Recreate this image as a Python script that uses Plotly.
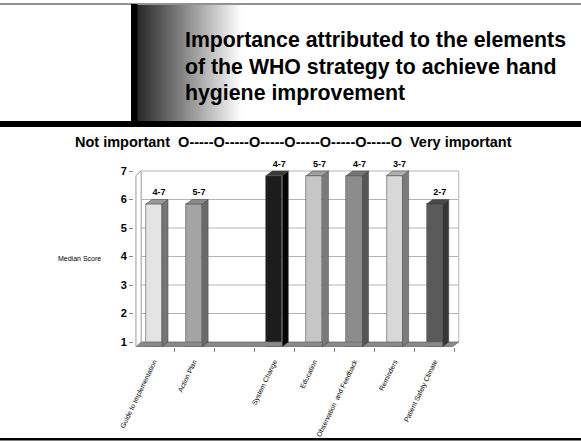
import plotly.graph_objects as go

# ---------------- data ----------------
categories = ["Guide to Implementation", "Action Plan", "", "System Change",
              "Education", "Observation  and Feedback", "Reminders",
              "Patient Safety Climate"]
median_score = [6, 6, None, 7, 7, 7, 7, 6]
score_range = ["4-7", "5-7", "", "4-7", "5-7", "4-7", "3-7", "2-7"]
y_ticks = [1, 2, 3, 4, 5, 6, 7]
title_lines = ["Importance attributed to the elements",
               "of the WHO strategy to achieve hand",
               "hygiene improvement"]
scale_text = "Not important  O-----O-----O-----O-----O-----O-----O  Very important"
y_title = "Median Score"

# ---------------- styles ----------------
front_cols = ["#e4e4e4", "#a4a4a4", None, "#1c1c1c", "#c6c6c6", "#8c8c8c", "#d8d8d8", "#5a5a5a"]
side_cols = ["#767676", "#6a6a6a", None, "#050505", "#7a7a7a", "#555555", "#7c7c7c", "#363636"]
top_cols = ["#9a9a9a", "#8a8a8a", None, "#3a3a3a", "#a0a0a0", "#767676", "#b0b0b0", "#484848"]

W, H = 581, 441
FONT = "Liberation Sans, Arial, sans-serif"
dx, dy = 0.15, 0.16      # 3-D depth offsets in data units
bw = 0.4                 # bar front width
xl_front, xl_back = -0.45, -0.32
xr_back = 7.6
xr_front = xr_back - dx


def px(x):
    return x / W


def py(y):
    return 1 - y / H


fig = go.Figure()

n = len(categories)
idx = list(range(n))
base = y_ticks[0]
top = y_ticks[-1]

# floor
fig.add_trace(go.Scatter(
    x=[xl_front, xl_back, xr_back, xr_front, xl_front],
    y=[base - dy, base, base, base - dy, base - dy],
    mode="lines", fill="toself", fillcolor="#8a8a8a",
    line=dict(color="#6a6a6a", width=0.8), hoverinfo="skip", showlegend=False))

# left wall
fig.add_trace(go.Scatter(
    x=[xl_front, xl_front, xl_back, xl_back, xl_front],
    y=[base - dy, top - dy, top, base, base - dy],
    mode="lines", fill="toself", fillcolor="white",
    line=dict(color="#9a9a9a", width=1), hoverinfo="skip", showlegend=False))

# bars: front faces
bx, by, bbase, bcol = [], [], [], []
for i, v in zip(idx, median_score):
    if v is None:
        continue
    bx.append(i)
    by.append(v - base)
    bbase.append(base - dy)
    bcol.append(front_cols[i])
fig.add_trace(go.Bar(x=bx, y=by, base=bbase, width=bw,
                     marker=dict(color=bcol, line=dict(color="#505050", width=0.6)),
                     hoverinfo="skip", showlegend=False))

# side and top faces
for i, v in zip(idx, median_score):
    if v is None:
        continue
    xr = i + bw / 2
    xlb = i - bw / 2
    fig.add_trace(go.Scatter(
        x=[xr, xr + dx, xr + dx, xr, xr],
        y=[base - dy, base, v, v - dy, base - dy],
        mode="lines", fill="toself", fillcolor=side_cols[i],
        line=dict(color="#404040", width=0.5), hoverinfo="skip", showlegend=False))
    fig.add_trace(go.Scatter(
        x=[xlb, xlb + dx, xr + dx, xr, xlb],
        y=[v - dy, v, v, v - dy, v - dy],
        mode="lines", fill="toself", fillcolor=top_cols[i],
        line=dict(color="#404040", width=0.5), hoverinfo="skip", showlegend=False))

# range labels above bars
lx, ly, lt = [], [], []
for i, v, t in zip(idx, median_score, score_range):
    if v is None:
        continue
    lx.append(i + dx / 2 + 0.05)
    ly.append(v + 0.22)
    lt.append(f"<b>{t}</b>")
fig.add_trace(go.Scatter(x=lx, y=ly, text=lt, mode="text",
                         textfont=dict(family=FONT, size=9, color="black"),
                         hoverinfo="skip", showlegend=False, cliponaxis=False))

shapes = []
# back wall gridlines and frame
for t in y_ticks[1:]:
    shapes.append(dict(type="line", xref="x", yref="y", x0=xl_back, x1=xr_back,
                       y0=t, y1=t, line=dict(color="#b4b4b4", width=1), layer="below"))
shapes.append(dict(type="line", xref="x", yref="y", x0=xr_back, x1=xr_back,
                   y0=base, y1=top, line=dict(color="#b4b4b4", width=1), layer="below"))

# header decoration (pixel -> paper)
# gradient
g0, g1 = 137, 242
steps = 70
for k in range(steps):
    a = g0 + (g1 - g0) * k / steps
    b = g0 + (g1 - g0) * (k + 1) / steps + 0.5
    c = int(40 + (255 - 40) * k / (steps - 1))
    shapes.append(dict(type="rect", xref="paper", yref="paper", x0=px(a), x1=px(b),
                       y0=py(121), y1=py(5), fillcolor=f"rgb({c},{c},{c})",
                       line=dict(width=0), layer="below"))
shapes.append(dict(type="line", xref="paper", yref="paper", x0=0, x1=1, y0=py(4), y1=py(4),
                   line=dict(color="#6e6e6e", width=1.5)))
shapes.append(dict(type="rect", xref="paper", yref="paper", x0=px(131), x1=px(137.5),
                   y0=py(121), y1=py(4), fillcolor="black", line=dict(width=0)))
shapes.append(dict(type="rect", xref="paper", yref="paper", x0=0, x1=1,
                   y0=py(127), y1=py(121), fillcolor="black", line=dict(width=0)))
shapes.append(dict(type="rect", xref="paper", yref="paper", x0=0, x1=1,
                   y0=py(440.5), y1=py(438), fillcolor="black", line=dict(width=0)))

annotations = []
for k, line in enumerate(title_lines):
    annotations.append(dict(text=f"<b>{line}</b>", xref="paper", yref="paper",
                            x=px(183), y=py(40 + 26.5 * k), xanchor="left", yanchor="middle",
                            showarrow=False, font=dict(family=FONT, size=21.3, color="black")))
annotations.append(dict(text=f"<b>{scale_text}</b>", xref="paper", yref="paper",
                        x=px(293), y=py(142), xanchor="center", yanchor="middle",
                        showarrow=False, font=dict(family=FONT, size=14.5, color="black")))
annotations.append(dict(text=y_title, xref="paper", yref="paper",
                        x=px(80), y=py(258), xanchor="center", yanchor="middle",
                        showarrow=False, font=dict(family=FONT, size=7, color="black")))

# axis geometry: x px = 154 + 40.1*i ; y px = 342 - 28.5*(v-1)
x_left_px, x_right_px = 134, 461
y_top_px, y_bot_px = 150, 347
xr0 = (x_left_px - 154) / 40.1
xr1 = (x_right_px - 154) / 40.1
yr0 = 1 + (342 - y_bot_px) / 28.5
yr1 = 1 + (342 - y_top_px) / 28.5

fig.update_layout(
    width=W, height=H, margin=dict(l=0, r=0, t=0, b=0),
    paper_bgcolor="white", plot_bgcolor="white",
    font=dict(family=FONT),
    shapes=shapes, annotations=annotations, bargap=0,
    xaxis=dict(domain=[px(x_left_px), px(x_right_px)], range=[xr0, xr1],
               tickmode="array", tickvals=idx, ticktext=categories,
               tickangle=-64, tickfont=dict(family=FONT, size=6.9, color="black"),
               ticks="outside", ticklen=7, tickcolor="rgba(0,0,0,0)",
               showgrid=False, zeroline=False, showline=False, automargin=False,
               minor=dict(tickmode="linear", tick0=-0.5, dtick=1, ticks="outside",
                          ticklen=4, tickcolor="#8a8a8a", showgrid=False)),
    yaxis=dict(domain=[py(y_bot_px), py(y_top_px)], range=[yr0, yr1],
               tickmode="array", tickvals=y_ticks,
               ticktext=[f"<b>{t}</b>" for t in y_ticks],
               tickfont=dict(family=FONT, size=11, color="black"),
               ticks="outside", ticklen=4, tickcolor="#8a8a8a",
               showgrid=False, zeroline=False, showline=False, automargin=False),
)

fig.write_html("out.html", config={"displayModeBar": False},
               post_script="document.body.style.margin='0';"
                           "document.body.style.overflow='hidden';")
